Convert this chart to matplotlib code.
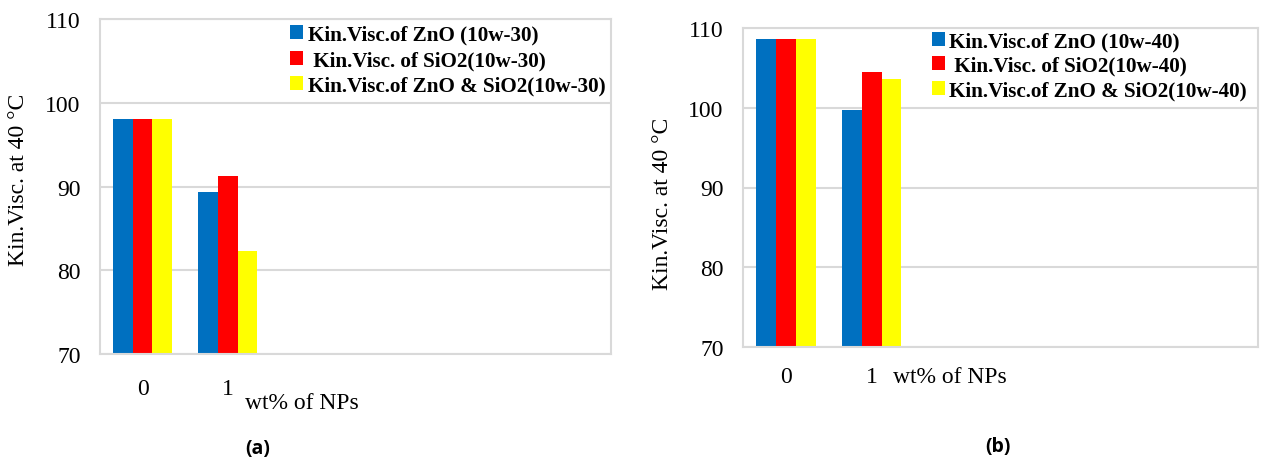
import matplotlib
matplotlib.use("Agg")
import matplotlib.pyplot as plt
import numpy as np

# ── data ────────────────────────────────────────────────────────────────────
categories = ["0", "1", "", "", "", ""]          # Excel axis keeps 6 slots

visc_30_zno = [98.1, 89.3]
visc_30_sio2 = [98.1, 91.3]
visc_30_mix = [98.1, 82.3]
labels_30 = ["Kin.Visc.of ZnO (10w-30)",
             " Kin.Visc. of SiO2(10w-30)",
             "Kin.Visc.of ZnO & SiO2(10w-30)"]

visc_40_zno = [108.6, 99.7]
visc_40_sio2 = [108.6, 104.5]
visc_40_mix = [108.6, 103.6]
labels_40 = ["Kin.Visc.of ZnO (10w-40)",
             " Kin.Visc. of SiO2(10w-40)",
             "Kin.Visc.of ZnO & SiO2(10w-40)"]

COLORS = ["#0070C0", "#FF0000", "#FFFF00"]
GRID = "#d9d9d9"
SERIF = "Liberation Serif"
BW = 0.23


def draw_panel(ax, series, labels, leg_anchor, leg_space, lbl_pos, xlab_pos,
               tick_pad):
    x = np.arange(len(series[0]))
    for i, (vals, lab, col) in enumerate(zip(series, labels, COLORS)):
        ax.bar(x + (i - 1) * BW, vals, width=BW, color=col, label=lab, zorder=2)

    ax.set_xlim(-0.5, len(categories) - 0.5)
    ax.set_ylim(70, 110)
    ax.set_yticks([70, 80, 90, 100, 110])
    ax.set_xticks(np.arange(len(categories)))
    ax.set_xticklabels(categories)
    ax.yaxis.grid(True, color=GRID, lw=1.5, zorder=0)
    ax.set_axisbelow(True)
    for sp in ax.spines.values():
        sp.set_color(GRID)
        sp.set_linewidth(1.5)
    ax.tick_params(axis="both", length=0, labelsize=17)
    ax.tick_params(axis="y", pad=14)
    ax.tick_params(axis="x", pad=tick_pad)
    for t in ax.get_xticklabels() + ax.get_yticklabels():
        t.set_fontfamily(SERIF)

    ax.text(lbl_pos[0], lbl_pos[1], "Kin.Visc. at 40 \u00b0C", rotation=90,
            ha="center", va="center", fontsize=17, family=SERIF,
            transform=ax.transAxes)
    ax.text(xlab_pos[0], xlab_pos[1], "wt% of NPs", ha="left", va="center",
            fontsize=17, family=SERIF, transform=ax.transAxes)

    ax.legend(loc="upper left", bbox_to_anchor=leg_anchor, frameon=False,
              borderpad=0, borderaxespad=0, handlelength=0.65,
              handleheight=0.65, handletextpad=0.2, labelspacing=leg_space,
              prop={"family": SERIF, "weight": "bold", "size": 15.2})


fig = plt.figure(figsize=(12.63, 4.64), dpi=100)
ax1 = fig.add_axes([0.0792, 0.2349, 0.4046, 0.722])
ax2 = fig.add_axes([0.5883, 0.25, 0.4078, 0.6875])

draw_panel(ax1, [visc_30_zno, visc_30_sio2, visc_30_mix], labels_30,
           (0.371, 0.984), 0.27, (-0.160, 0.522), (0.284, -0.146), 17)
draw_panel(ax2, [visc_40_zno, visc_40_sio2, visc_40_mix], labels_40,
           (0.366, 0.99), 0.22, (-0.156, 0.451), (0.291, -0.094), 14)

fig.text(258 / 1263, 1 - 449 / 464, "(a)", ha="center", va="center",
         fontsize=14, fontweight="bold", family="Open Sans")
fig.text(998 / 1263, 1 - 447 / 464, "(b)", ha="center", va="center",
         fontsize=14, fontweight="bold", family="Open Sans")

fig.savefig("out.png", dpi=100, facecolor="white")
